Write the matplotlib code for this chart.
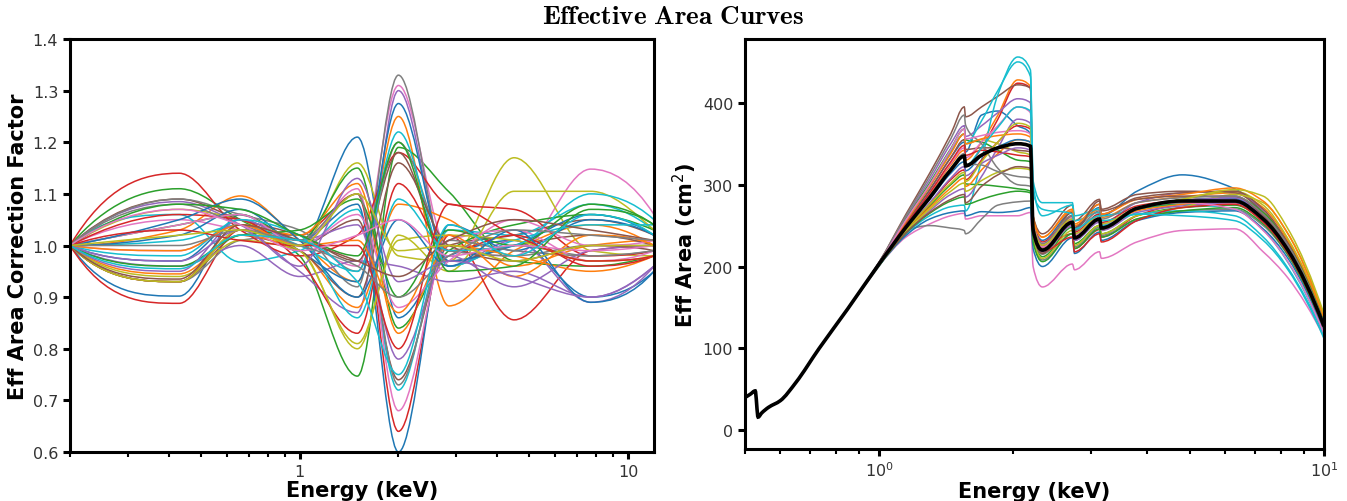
import numpy as np
import matplotlib
matplotlib.use("Agg")
import matplotlib.pyplot as plt
from matplotlib.path import Path
from matplotlib.patches import PathPatch
from matplotlib.ticker import FixedLocator, FixedFormatter, NullFormatter

# ---- left panel: correction factors at the spline knots (keV) ----
knot_energy = [0.2, 0.43, 0.66, 1.0, 1.5, 2.0, 2.85, 4.5, 7.7, 12.0]

correction_factors = [
    [1, 0.902, 1.06, 1.00, 1.21, 0.86, 0.98, 1.01, 0.90, 0.95],
    [1, 1.03, 1.096, 1.01, 0.93, 1.25, 0.883, 0.99, 1.04, 1.00],
    [1, 1.11, 1.05, 0.98, 0.747, 1.19, 1.104, 0.97, 0.96, 0.98],
    [1, 0.888, 1.03, 1.02, 1.10, 0.64, 1.02, 0.856, 0.99, 1.00],
    [1, 1.085, 1.04, 0.95, 0.87, 1.30, 0.96, 1.01, 0.89, 0.96],
    [1, 0.93, 1.02, 1.00, 1.05, 0.74, 1.00, 1.02, 1.05, 1.02],
    [1, 1.05, 1.03, 1.01, 0.96, 1.31, 0.99, 0.98, 1.148, 1.06],
    [1, 0.93, 1.01, 1.02, 0.92, 1.33, 0.96, 1.00, 0.98, 0.99],
    [1, 1.07, 1.05, 1.00, 1.16, 0.98, 0.97, 1.17, 0.99, 0.98],
    [1, 1.06, 0.968, 0.99, 1.07, 0.72, 1.03, 1.02, 1.08, 1.03],
    [1, 0.97, 1.05, 1.01, 1.08, 0.60, 1.04, 0.99, 1.05, 1.02],
    [1, 0.945, 1.02, 0.99, 0.88, 1.08, 1.05, 0.96, 1.00, 1.01],
    [1, 1.04, 1.06, 1.01, 1.15, 0.84, 0.99, 1.04, 1.06, 1.03],
    [1, 1.14, 1.03, 0.98, 1.02, 1.18, 1.08, 1.07, 0.98, 0.99],
    [1, 0.96, 1.00, 0.94, 0.97, 0.96, 0.93, 0.95, 0.90, 0.96],
    [1, 1.09, 1.05, 1.02, 0.97, 1.18, 0.97, 1.00, 1.02, 1.00],
    [1, 0.99, 1.04, 1.00, 1.11, 0.68, 1.01, 1.03, 0.97, 0.99],
    [1, 1.09, 1.06, 1.03, 0.95, 1.20, 0.99, 0.98, 1.00, 1.00],
    [1, 0.94, 1.01, 0.99, 0.80, 1.02, 0.95, 1.105, 1.105, 1.03],
    [1, 1.01, 1.04, 1.00, 0.95, 1.22, 0.96, 1.01, 1.04, 1.04],
    [1, 1.02, 1.07, 0.99, 0.93, 1.275, 0.97, 1.00, 1.06, 1.02],
    [1, 0.93, 1.04, 1.02, 1.12, 0.83, 1.00, 0.98, 0.95, 0.98],
    [1, 0.96, 1.02, 1.03, 1.09, 0.90, 1.03, 1.00, 1.08, 1.04],
    [1, 1.06, 1.05, 0.97, 0.83, 1.12, 0.99, 1.02, 0.96, 0.98],
    [1, 0.95, 1.05, 1.01, 1.04, 0.78, 0.98, 0.92, 0.99, 1.00],
    [1, 0.93, 1.03, 0.99, 0.90, 1.16, 1.00, 0.97, 1.00, 0.99],
    [1, 1.04, 1.06, 1.00, 1.06, 0.88, 0.97, 1.05, 1.00, 1.01],
    [1, 1.08, 1.04, 1.01, 1.10, 0.73, 1.01, 0.99, 0.98, 0.99],
    [1, 0.93, 1.03, 0.99, 0.81, 1.01, 1.02, 1.01, 0.97, 0.98],
    [1, 0.98, 1.05, 1.02, 0.86, 1.09, 0.99, 1.00, 1.10, 1.05],
    [1, 1.05, 1.09, 1.01, 0.90, 1.05, 0.96, 1.03, 0.89, 0.95],
    [1, 0.99, 1.04, 1.00, 1.01, 0.87, 1.02, 0.94, 1.02, 1.00],
    [1, 1.08, 1.07, 1.02, 0.98, 1.20, 0.95, 0.96, 1.07, 1.04],
    [1, 1.03, 1.01, 1.00, 1.00, 0.80, 1.08, 1.02, 0.97, 0.98],
    [1, 0.97, 1.03, 0.96, 1.13, 0.93, 0.97, 0.94, 0.90, 0.96],
    [1, 0.935, 1.04, 1.01, 0.97, 0.94, 1.01, 1.05, 1.03, 1.01],
    [1, 1.07, 1.04, 0.99, 1.02, 1.05, 0.98, 1.00, 0.99, 1.00],
    [1, 1.00, 1.03, 1.00, 0.96, 0.90, 0.98, 1.03, 1.02, 1.01],
    [1, 1.02, 1.03, 1.00, 1.10, 0.99, 1.00, 0.97, 1.00, 1.00],
    [1, 0.955, 1.02, 1.01, 0.93, 0.75, 1.04, 0.98, 1.06, 1.02],
]

# ---- right panel: effective area (cm^2) ----
low_energy = [0.5, 0.514, 0.527, 0.535, 0.545, 0.565, 0.6, 0.65, 0.734, 0.85]
low_area = [40, 44, 48, 16, 21, 28, 36, 58, 100, 148]

high_energy = [1.0, 1.15, 1.3, 1.45, 1.555, 1.565, 1.7, 1.85, 2.05, 2.19, 2.22,
               2.33, 2.72, 2.75, 3.13, 3.16, 3.8, 4.8, 6.3, 7.3, 8.3, 10.0]
mean_area = [203, 248, 284, 318, 335, 323, 336, 345, 350, 347, 245,
             220, 254, 235, 258, 247, 271, 280, 280, 258, 220, 127]

area_curves = [
    [204, 252, 293, 333, 352, 340, 385, 390, 372, 362, 258, 232, 266, 247, 272, 262, 292, 312, 295, 265, 222, 126],
    [203, 250, 288, 324, 342, 330, 352, 385, 428, 420, 262, 236, 268, 250, 270, 260, 278, 285, 290, 272, 232, 134],
    [202, 244, 274, 300, 312, 301, 300, 298, 295, 292, 238, 212, 248, 228, 250, 240, 262, 272, 275, 256, 218, 126],
    [203, 248, 284, 318, 334, 322, 345, 380, 424, 418, 252, 226, 240, 222, 245, 236, 262, 276, 278, 255, 216, 124],
    [205, 260, 306, 350, 372, 359, 372, 388, 405, 400, 250, 224, 258, 240, 264, 253, 278, 290, 292, 268, 226, 130],
    [205, 264, 314, 362, 395, 383, 395, 408, 422, 418, 262, 240, 275, 256, 282, 270, 288, 292, 290, 266, 224, 128],
    [201, 236, 252, 262, 265, 258, 262, 262, 262, 266, 200, 175, 203, 196, 218, 210, 230, 244, 246, 218, 186, 114],
    [200, 244, 250, 247, 244, 240, 258, 275, 279, 280, 232, 208, 240, 224, 248, 238, 258, 268, 270, 250, 214, 122],
    [204, 255, 298, 340, 362, 350, 355, 350, 340, 336, 240, 216, 252, 232, 256, 245, 270, 282, 292, 275, 234, 138],
    [202, 240, 262, 273, 275, 268, 330, 410, 456, 440, 305, 278, 278, 262, 270, 262, 270, 276, 270, 245, 205, 118],
    [201, 238, 258, 266, 268, 262, 267, 266, 268, 272, 222, 200, 235, 216, 242, 232, 256, 266, 268, 246, 210, 120],
    [202, 244, 272, 296, 308, 298, 318, 338, 355, 352, 248, 222, 256, 236, 258, 248, 268, 276, 282, 266, 230, 134],
    [204, 258, 302, 344, 368, 355, 352, 342, 330, 328, 242, 218, 252, 234, 257, 246, 270, 278, 285, 266, 228, 132],
    [202, 245, 276, 306, 318, 306, 330, 352, 372, 368, 256, 230, 262, 242, 264, 254, 274, 281, 284, 262, 224, 128],
    [202, 242, 268, 288, 295, 285, 310, 345, 380, 375, 248, 220, 250, 232, 254, 244, 266, 274, 278, 256, 218, 124],
    [204, 253, 294, 333, 355, 343, 345, 345, 342, 340, 248, 224, 266, 248, 276, 264, 284, 290, 292, 270, 228, 130],
    [203, 250, 290, 326, 345, 333, 352, 372, 395, 388, 255, 228, 260, 240, 262, 252, 272, 280, 282, 258, 220, 126],
    [205, 262, 310, 356, 385, 373, 350, 320, 300, 298, 238, 215, 252, 234, 258, 248, 272, 281, 284, 262, 222, 128],
    [202, 243, 270, 292, 302, 292, 305, 315, 320, 318, 235, 210, 244, 226, 250, 240, 262, 272, 288, 278, 240, 140],
    [204, 256, 298, 340, 362, 350, 378, 415, 450, 432, 300, 262, 275, 256, 266, 256, 264, 268, 262, 236, 198, 116],
    [203, 247, 282, 314, 328, 317, 335, 346, 355, 352, 246, 221, 255, 236, 259, 249, 272, 281, 283, 260, 222, 127],
    [204, 255, 298, 338, 362, 350, 356, 360, 362, 358, 260, 236, 270, 252, 276, 264, 282, 288, 296, 280, 240, 138],
    [201, 241, 265, 280, 285, 276, 282, 288, 292, 290, 230, 206, 240, 222, 246, 236, 258, 268, 272, 252, 214, 124],
    [203, 251, 290, 328, 348, 336, 342, 340, 336, 334, 244, 218, 236, 218, 240, 230, 256, 272, 276, 254, 216, 125],
    [202, 246, 278, 308, 322, 311, 326, 336, 345, 342, 244, 218, 250, 232, 256, 246, 270, 280, 284, 262, 224, 128],
    [202, 241, 266, 282, 288, 278, 298, 312, 322, 320, 240, 216, 262, 244, 280, 268, 282, 286, 286, 262, 222, 126],
    [204, 257, 300, 343, 368, 356, 360, 364, 366, 362, 250, 224, 256, 238, 260, 250, 272, 278, 270, 244, 206, 118],
    [203, 249, 286, 320, 338, 326, 324, 316, 310, 308, 250, 228, 262, 244, 268, 258, 278, 284, 286, 264, 226, 130],
    [202, 245, 276, 302, 315, 304, 328, 352, 375, 370, 252, 226, 258, 240, 262, 252, 272, 282, 294, 286, 246, 142],
    [203, 248, 284, 318, 335, 323, 345, 370, 395, 390, 290, 270, 264, 246, 262, 250, 264, 262, 256, 232, 196, 112],
]


def end_slope(h0, h1, d0, d1):
    m = ((2 * h0 + h1) * d0 - h0 * d1) / (h0 + h1)
    if np.sign(m) != np.sign(d0):
        return 0.0
    if np.sign(d0) != np.sign(d1) and abs(m) > 3 * abs(d0):
        return 3 * d0
    return m


def smooth_path(x, y):
    """Monotone cubic (Bezier) path through the knots, smooth in log-energy."""
    x = np.asarray(x, float)
    y = np.asarray(y, float)
    t = np.log10(x)
    h = np.diff(t)
    d = np.diff(y) / h
    n = len(y)
    m = np.zeros(n)
    for k in range(1, n - 1):
        if d[k - 1] * d[k] > 0:
            w1 = 2 * h[k] + h[k - 1]
            w2 = h[k] + 2 * h[k - 1]
            m[k] = (w1 + w2) / (w1 / d[k - 1] + w2 / d[k])
    m[0] = end_slope(h[0], h[1], d[0], d[1])
    m[-1] = end_slope(h[-1], h[-2], d[-1], d[-2])
    verts = [(x[0], y[0])]
    codes = [Path.MOVETO]
    for k in range(n - 1):
        verts.append((10 ** (t[k] + h[k] / 3), y[k] + m[k] * h[k] / 3))
        verts.append((10 ** (t[k + 1] - h[k] / 3), y[k + 1] - m[k + 1] * h[k] / 3))
        verts.append((x[k + 1], y[k + 1]))
        codes += [Path.CURVE4] * 3
    return Path(verts, codes)


def style_axes(ax):
    for sp in ax.spines.values():
        sp.set_linewidth(2.2)
        sp.set_color('black')
    ax.tick_params(which='major', direction='out', length=5, width=2.2,
                   labelsize=11.5, labelcolor='#333333')
    ax.tick_params(which='minor', direction='out', length=3.5, width=1.5)


fig = plt.figure(figsize=(13.47, 5.02), dpi=100)
ax1 = fig.add_axes([0.052, 0.0976, 0.4335, 0.8227])
ax2 = fig.add_axes([0.5531, 0.1036, 0.4298, 0.8167])

colors = plt.rcParams['axes.prop_cycle'].by_key()['color']

# left panel
for i, fac in enumerate(correction_factors):
    ax1.add_patch(PathPatch(smooth_path(knot_energy, fac), fill=False,
                            edgecolor=colors[i % len(colors)], lw=1.1))
ax1.set_xscale('log')
ax1.set_xlim(0.2, 12)
ax1.set_ylim(0.6, 1.4)
ax1.set_yticks(np.arange(0.6, 1.41, 0.1))
ax1.xaxis.set_major_locator(FixedLocator([1, 10]))
ax1.xaxis.set_major_formatter(FixedFormatter(['1', '10']))
ax1.xaxis.set_minor_formatter(NullFormatter())
ax1.set_xlabel('Energy (keV)', fontsize=15, fontweight='bold', labelpad=1)
ax1.set_ylabel('Eff Area Correction Factor', fontsize=15, fontweight='bold', labelpad=3)
style_axes(ax1)

# right panel
energy = low_energy + high_energy
for i, area in enumerate(area_curves):
    ax2.add_patch(PathPatch(smooth_path(energy, low_area + area), fill=False,
                            edgecolor=colors[i % len(colors)], lw=1.1))
ax2.add_patch(PathPatch(smooth_path(energy, low_area + mean_area), fill=False,
                        edgecolor='black', lw=2.6, zorder=3))
ax2.set_xscale('log')
ax2.set_xlim(0.5, 10)
ax2.set_ylim(-23, 478)
ax2.set_yticks([0, 100, 200, 300, 400])
ax2.set_xlabel('Energy (keV)', fontsize=15, fontweight='bold', labelpad=1)
ax2.set_ylabel('Eff Area (cm$^2$)', fontsize=15, fontweight='bold', labelpad=3)
style_axes(ax2)

fig.text(0.5, 0.966, r'$\mathbf{Effective\ Area\ Curves}$', math_fontfamily='cm',
         fontsize=19.5, ha='center', va='center')

fig.savefig('out.png', dpi=100)
